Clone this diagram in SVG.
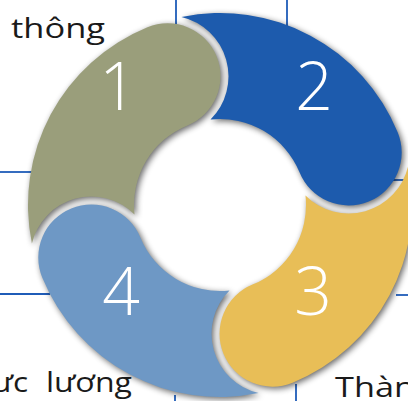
<svg xmlns="http://www.w3.org/2000/svg" xmlns:xlink="http://www.w3.org/1999/xlink" width="408" height="401" viewBox="0 0 408 401">
<style>
.ln{stroke:#1F5CB8;stroke-width:1.8;fill:none}
.num{font-family:"Open Sans","Lato","Liberation Sans",sans-serif;font-weight:300;font-size:66px;fill:#fff;text-anchor:middle}
.lbl{font-family:"Open Sans","Liberation Sans",sans-serif;font-size:28px;fill:#1a1a1a}
</style>
<defs>
<filter id="shadow" x="-20%" y="-20%" width="140%" height="140%">
<feGaussianBlur in="SourceAlpha" stdDeviation="3.4"/>
<feOffset dx="1.5" dy="2"/>
<feComponentTransfer><feFuncA type="linear" slope="0.6"/></feComponentTransfer>
</filter>
<path id="p1" d="M31.91,243.57 A192,192 0 0 1 147.45,27.23 A53,53 0 0 1 187.51,125.38 A86,86 0 0 0 134.52,214.48 A61,61 0 0 0 31.91,243.57 Z"/>
<path id="p2" d="M181.43,16.91 A192,192 0 0 1 397.77,132.45 A53,53 0 0 1 299.62,172.51 A86,86 0 0 0 210.52,119.52 A61,61 0 0 0 181.43,16.91 Z"/>
<path id="p3" d="M408.09,166.43 A192,192 0 0 1 292.55,382.77 A53,53 0 0 1 252.49,284.62 A86,86 0 0 0 305.48,195.52 A61,61 0 0 0 408.09,166.43 Z"/>
<path id="p4" d="M258.57,393.09 A192,192 0 0 1 42.23,277.55 A53,53 0 0 1 140.38,237.49 A86,86 0 0 0 229.48,290.48 A61,61 0 0 0 258.57,393.09 Z"/>
</defs>
<g id="connectors">
<line class="ln" x1="176" y1="0" x2="176" y2="26"/>
<line class="ln" x1="287" y1="0" x2="287" y2="26"/>
<line class="ln" x1="0" y1="172" x2="32" y2="172"/>
<line class="ln" x1="0" y1="294" x2="50" y2="294"/>
<line class="ln" x1="393" y1="180" x2="408" y2="180"/>
<line class="ln" x1="396" y1="295" x2="408" y2="295"/>
<line class="ln" x1="296" y1="384" x2="296" y2="401"/>
<line class="ln" x1="175" y1="395" x2="175" y2="401"/>
</g>
<g id="shadows" filter="url(#shadow)">
<use xlink:href="#p1"/><use xlink:href="#p2"/><use xlink:href="#p3"/><use xlink:href="#p4"/>
</g>
<g id="node1"><use xlink:href="#p1" fill="#9A9E7B"/><text class="num" x="118" y="110">1</text></g>
<g id="node2"><use xlink:href="#p2" fill="#1D5BAD"/><text class="num" x="314" y="110">2</text></g>
<g id="node3"><use xlink:href="#p3" fill="#E8BE57"/><text class="num" x="313" y="315">3</text></g>
<g id="node4"><use xlink:href="#p4" fill="#6E98C5"/><text class="num" x="121" y="315">4</text></g>
<g id="labels">
<text class="lbl" x="11" y="38" textLength="94" lengthAdjust="spacingAndGlyphs">thông</text>
<text class="lbl" x="-8" y="392" textLength="36" lengthAdjust="spacingAndGlyphs">ưc</text>
<text class="lbl" x="46" y="392" textLength="86" lengthAdjust="spacingAndGlyphs">lương</text>
<text class="lbl" x="335" y="397" textLength="80" lengthAdjust="spacingAndGlyphs">Thàn</text>
</g>
</svg>
